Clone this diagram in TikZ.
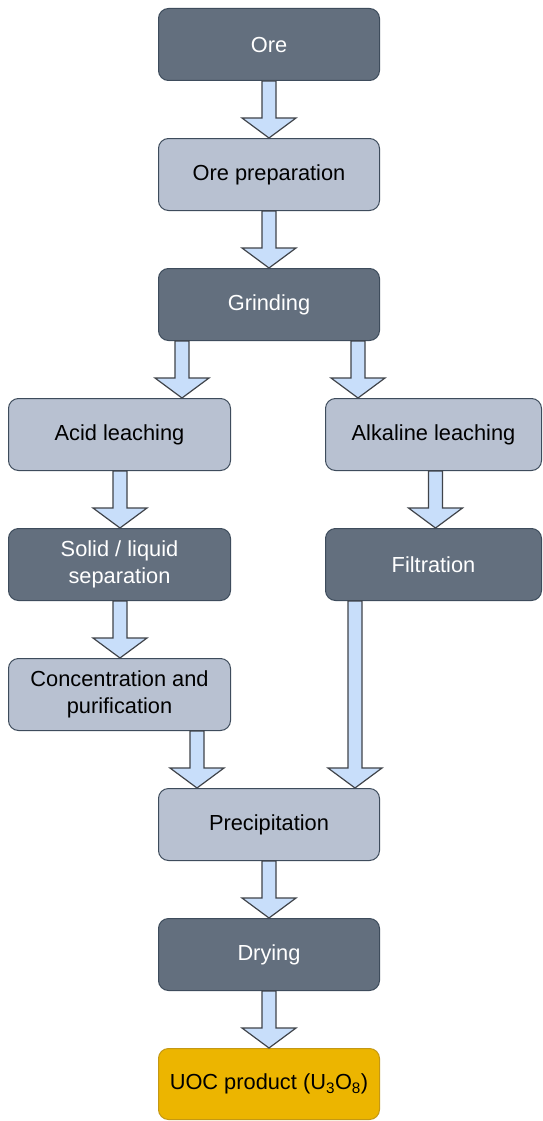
\documentclass[tikz,border=0pt]{standalone}
\usepackage{fontspec}
\setmainfont{Liberation Sans}
\usepackage{tikz}
\usetikzlibrary{positioning, calc}
\definecolor{darkfill}{RGB}{99,111,126}
\definecolor{lightfill}{RGB}{184,193,209}
\definecolor{boxline}{RGB}{62,76,92}
\definecolor{arrowfill}{RGB}{200,222,250}
\definecolor{arrowline}{RGB}{64,68,74}
\definecolor{uocfill}{RGB}{236,181,0}
\definecolor{uocline}{RGB}{196,152,20}
\tikzstyle{procbox}=[rectangle,rounded corners=10pt,draw=boxline,line width=1pt,minimum width=221pt,minimum height=72pt,align=center,inner sep=0pt,font=\fontsize{21.8}{27}\selectfont]
\tikzstyle{darkbox}=[procbox,fill=darkfill,text=white]
\tikzstyle{lightbox}=[procbox,fill=lightfill,text=black]
\tikzstyle{productbox}=[procbox,fill=uocfill,draw=uocline,text=black]
\tikzstyle{blockarrow}=[fill=arrowfill,draw=arrowline,line width=1.2pt,line join=miter]
\newcommand{\flowarrow}[3]{%
  \path[blockarrow] let \p1=(#1.south), \p2=(#2.north) in
    ({#3pt-7pt},\y1) -- ({#3pt+7pt},\y1) -- ({#3pt+7pt},\y2+20pt) -- ({#3pt+27pt},\y2+20pt)
    -- ({#3pt},\y2) -- ({#3pt-27pt},\y2+20pt) -- ({#3pt-7pt},\y2+20pt) -- cycle;}

\begin{document}
\begin{tikzpicture}
        \useasboundingbox[fill=white] (0pt,0pt) rectangle (543pt,-1121pt);

        \node[darkbox] (ore) at (269pt,-44.5pt) {Ore};
        \node[lightbox, below=57pt of ore] (prep) {Ore preparation};
        \node[darkbox, below=57pt of prep] (grind) {Grinding};
        \node[lightbox, below=57pt of grind, xshift=-149.5pt, minimum width=222pt] (acid) {Acid leaching};
        \node[lightbox, below=57pt of grind, xshift=164.5pt, minimum width=216pt] (alk) {Alkaline leaching};
        \node[darkbox, below=57pt of acid, minimum width=222pt] (solid) {Solid / liquid\\separation};
        \node[darkbox, below=57pt of alk, minimum width=216pt] (filt) {Filtration};
        \node[lightbox, below=57pt of solid, minimum width=222pt] (conc) {Concentration and\\purification};
        \node[lightbox, below=57pt of conc, xshift=149.5pt] (precip) {Precipitation};
        \node[darkbox, below=57pt of precip] (dry) {Drying};
        \node[productbox, below=57pt of dry, minimum height=71pt] (uoc) {UOC product (U\textsubscript{3}O\textsubscript{8})};

        \flowarrow{ore}{prep}{269}
        \flowarrow{prep}{grind}{269}
        \flowarrow{grind}{acid}{182}
        \flowarrow{grind}{alk}{358}
        \flowarrow{acid}{solid}{120}
        \flowarrow{alk}{filt}{435.5}
        \flowarrow{solid}{conc}{120}
        \flowarrow{conc}{precip}{197}
        \flowarrow{filt}{precip}{355}
        \flowarrow{precip}{dry}{269}
        \flowarrow{dry}{uoc}{269}
    \end{tikzpicture}
\end{document}
